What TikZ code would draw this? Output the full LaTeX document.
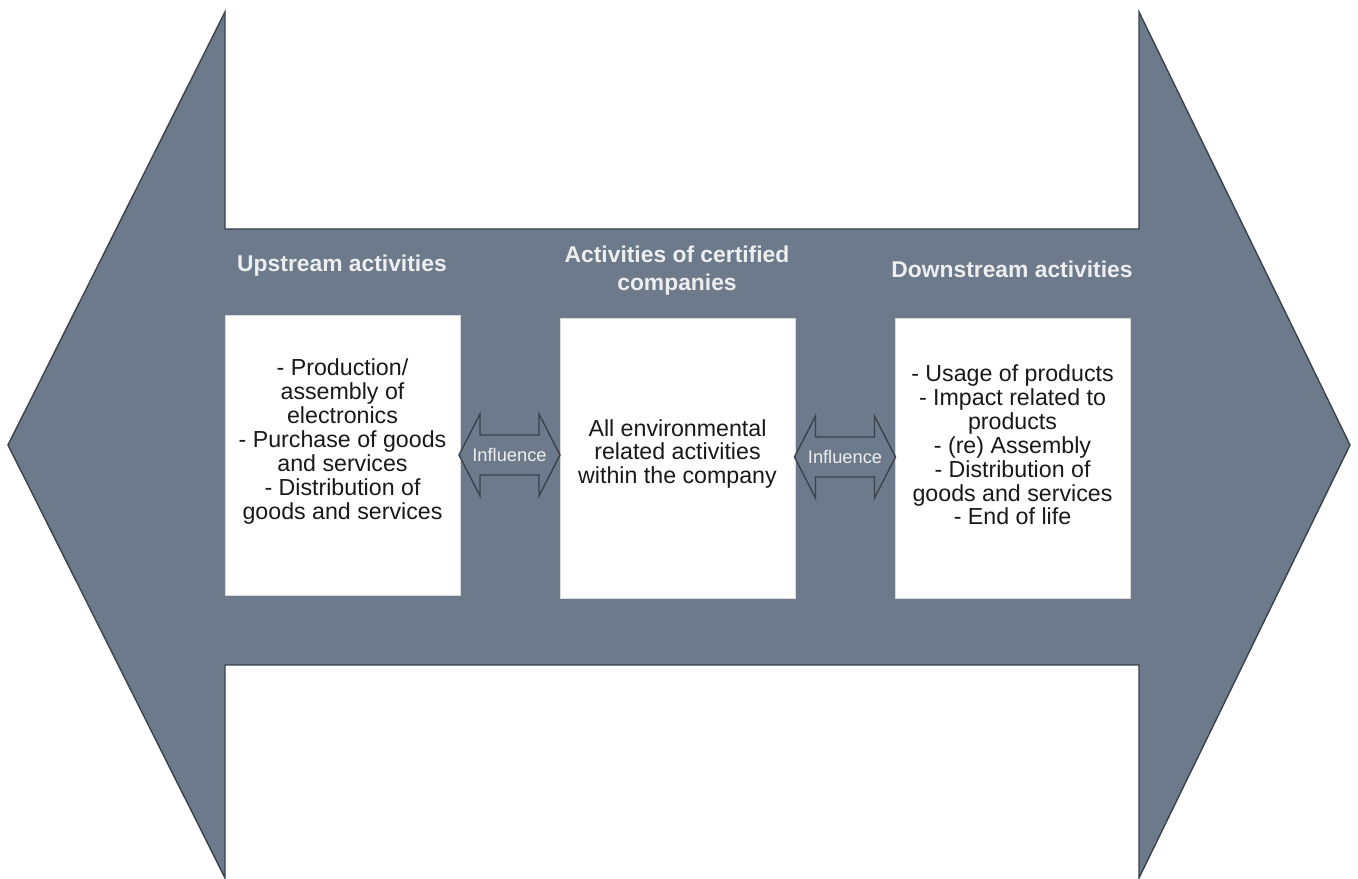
\documentclass[tikz,border=0pt]{standalone}
\usepackage{fontspec}
\setmainfont{Liberation Sans}
\definecolor{slate}{RGB}{108,122,139}
\definecolor{slateline}{RGB}{58,66,76}
\definecolor{headtext}{RGB}{238,238,238}
\begin{document}
\begin{tikzpicture}[
        actbox/.style={fill=white, draw=gray!30, line width=0.3pt, minimum width=4.7cm, minimum height=5.6cm},
        boxtext/.style={align=center, text=black!90, font=\fontsize{13.2}{13.6}\selectfont},
        heading/.style={align=center, text=headtext, font=\bfseries\fontsize{13}{16}\selectfont},
        influtext/.style={text=headtext, font=\fontsize{10.4}{12}\selectfont},
    ]
        \def\armx{4.5}
        \def\tipgap{0.16}
        \def\barhi{13.0}
        \def\barlo{4.28}

        \useasboundingbox (0,0) rectangle (27.16,17.58);

        % the big double arrow
        \draw[fill=slate, draw=slateline, line width=0.8pt] (\tipgap,8.68) -- (\armx,17.34) -- (\armx,\barhi) -- (22.78,\barhi) -- (22.78,17.34) -- (27.16-\tipgap,8.68) -- (22.78,0.02) -- (22.78,\barlo) -- (\armx,\barlo) -- (\armx,0.02) -- cycle;

        \node[heading] (uphead) at (6.84,12.26) {Upstream activities};
        \node[heading] (midhead) at (13.54,12.16) {Activities of certified\\companies};
        \node[heading] (downhead) at (20.24,12.2) {Downstream activities};

        \node[actbox] (upbox) at (6.85,8.48) {};
        \node[actbox] (midbox) at (13.55,8.42) {};
        \node[actbox] (downbox) at (20.25,8.42) {};

        \node[boxtext] (uptext) at (6.85,8.75) {- Production/\\assembly of\\electronics\\- Purchase of goods\\and services\\- Distribution of\\goods and services};
        \node[boxtext] (midtext) at (13.55,8.5) {All environmental\\related activities\\within the company};
        \node[boxtext] (downtext) at (20.25,8.68) {- Usage of products\\- Impact related to\\products\\- (re) Assembly\\- Distribution of\\goods and services\\- End of life};

        % influence arrows between the boxes
        \foreach \ax/\ay/\nm in {10.19/8.48/influp, 16.9/8.44/infldown} {
            \draw[fill=slate, draw=slateline, line width=0.8pt] (\ax-1.01,\ay) -- ++(0.42,0.82) -- ++(0,-0.42) -- ++(1.18,0) -- ++(0,0.42) -- ++(0.42,-0.82) -- ++(-0.42,-0.82) -- ++(0,0.42) -- ++(-1.18,0) -- ++(0,-0.42) -- cycle;
            \node[influtext] (\nm) at (\ax,\ay) {Influence};
        }
    \end{tikzpicture}
\end{document}
